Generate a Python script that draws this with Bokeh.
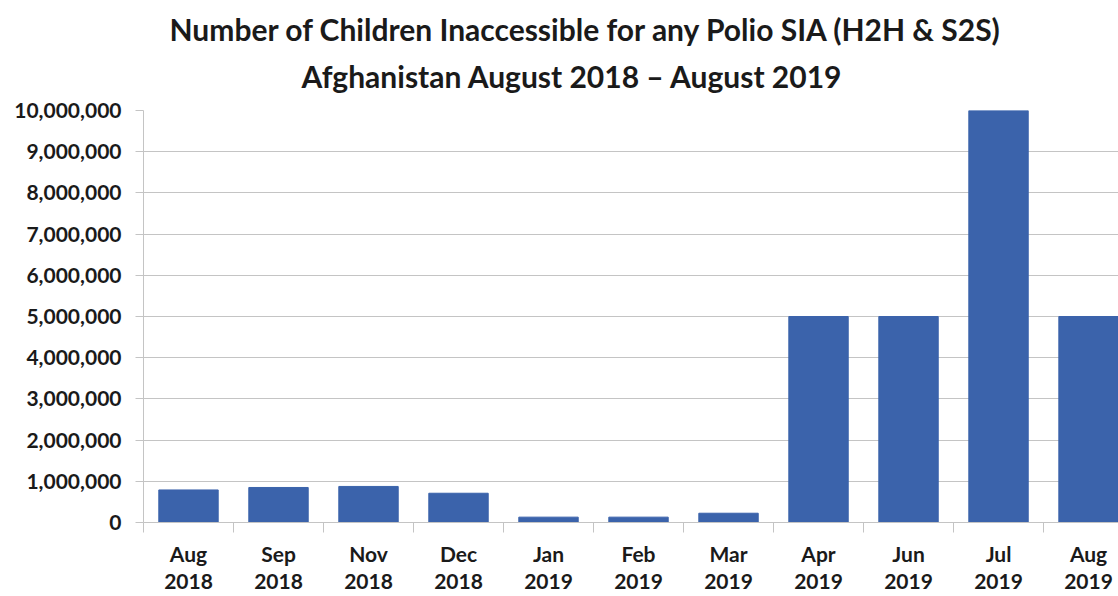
from bokeh.plotting import figure
from bokeh.models import (Range1d, LinearAxis, FixedTicker, NumeralTickFormatter,
                          Title, ColumnDataSource, Grid)
from bokeh.embed import file_html
from bokeh.resources import INLINE

# ---- data ----
months = ["Aug", "Sep", "Nov", "Dec", "Jan", "Feb", "Mar", "Apr", "Jun", "Jul", "Aug"]
years = ["2018", "2018", "2018", "2018", "2019", "2019", "2019", "2019", "2019", "2019", "2019"]
children = [790000, 850000, 875000, 710000, 130000, 130000, 225000,
            5000000, 5000000, 10000000, 5000000]
y_ticks = [0, 1000000, 2000000, 3000000, 4000000, 5000000,
           6000000, 7000000, 8000000, 9000000, 10000000]
title_line1 = "Number of Children Inaccessible for any Polio SIA (H2H & S2S)"
title_line2 = "Afghanistan August 2018 \u2013 August 2019"

idx = list(range(len(months)))
src = ColumnDataSource(dict(x=idx, top=children))

FONT = "Lato"
BAR = "#3b63ab"
GRID = "#c4c4c4"
TXT = "#1a1a1a"

p = figure(width=1118, height=596, output_backend="svg", toolbar_location=None,
           x_range=Range1d(-0.5, 10.333), y_range=Range1d(0, 10000000),
           x_axis_type=None, y_axis_type=None,
           min_border_left=143, min_border_right=0, min_border_top=110,
           min_border_bottom=74)
p.outline_line_color = None
p.background_fill_color = "white"
p.border_fill_color = "white"

p.vbar(x="x", top="top", width=0.66, source=src, fill_color=BAR, line_color=BAR)

# y axis
yax = LinearAxis(ticker=FixedTicker(ticks=y_ticks, minor_ticks=[]),
                 formatter=NumeralTickFormatter(format="0,0"))
yax.axis_line_color = GRID
yax.major_tick_line_color = GRID
yax.major_tick_out = 8
yax.major_tick_in = 0
yax.minor_tick_line_color = None
yax.major_label_standoff = 14
yax.major_label_text_font = FONT
yax.major_label_text_font_style = "bold"
yax.major_label_text_font_size = "21px"
yax.major_label_text_color = TXT
p.add_layout(yax, "left")

# x axis - months
xax = LinearAxis(ticker=FixedTicker(ticks=idx, minor_ticks=[i - 0.5 for i in idx]))
xax.major_label_overrides = {i: m for i, m in zip(idx, months)}
xax.axis_line_color = GRID
xax.major_tick_out = 0
xax.major_tick_in = 0
xax.minor_tick_out = 10
xax.minor_tick_in = 0
xax.minor_tick_line_color = GRID
xax.major_label_standoff = 8
xax.major_label_text_font = FONT
xax.major_label_text_font_style = "bold"
xax.major_label_text_font_size = "21px"
xax.major_label_text_color = TXT
p.add_layout(xax, "below")

# x axis - years
xax2 = LinearAxis(ticker=FixedTicker(ticks=idx, minor_ticks=[]))
xax2.major_label_overrides = {i: y for i, y in zip(idx, years)}
xax2.axis_line_color = None
xax2.major_tick_line_color = None
xax2.minor_tick_line_color = None
xax2.major_tick_out = 0
xax2.major_tick_in = 0
xax2.major_label_standoff = 5
xax2.major_label_text_font = FONT
xax2.major_label_text_font_style = "bold"
xax2.major_label_text_font_size = "21px"
xax2.major_label_text_color = TXT
p.add_layout(xax2, "below")

# grid
g = Grid(dimension=1, ticker=yax.ticker, grid_line_color=GRID, grid_line_width=1)
p.add_layout(g)

# titles (second line added first: it sits nearest the plot)
t2 = Title(text=title_line2, align="left", offset=158, standoff=34,
           text_font=FONT, text_font_style="bold", text_font_size="30px",
           text_color=TXT)
t1 = Title(text=title_line1, align="left", offset=26, standoff=-16,
           text_font=FONT, text_font_style="bold", text_font_size="30px",
           text_color=TXT)
p.add_layout(t2, "above")
p.add_layout(t1, "above")

open("out.html", "w").write(file_html(p, INLINE))
